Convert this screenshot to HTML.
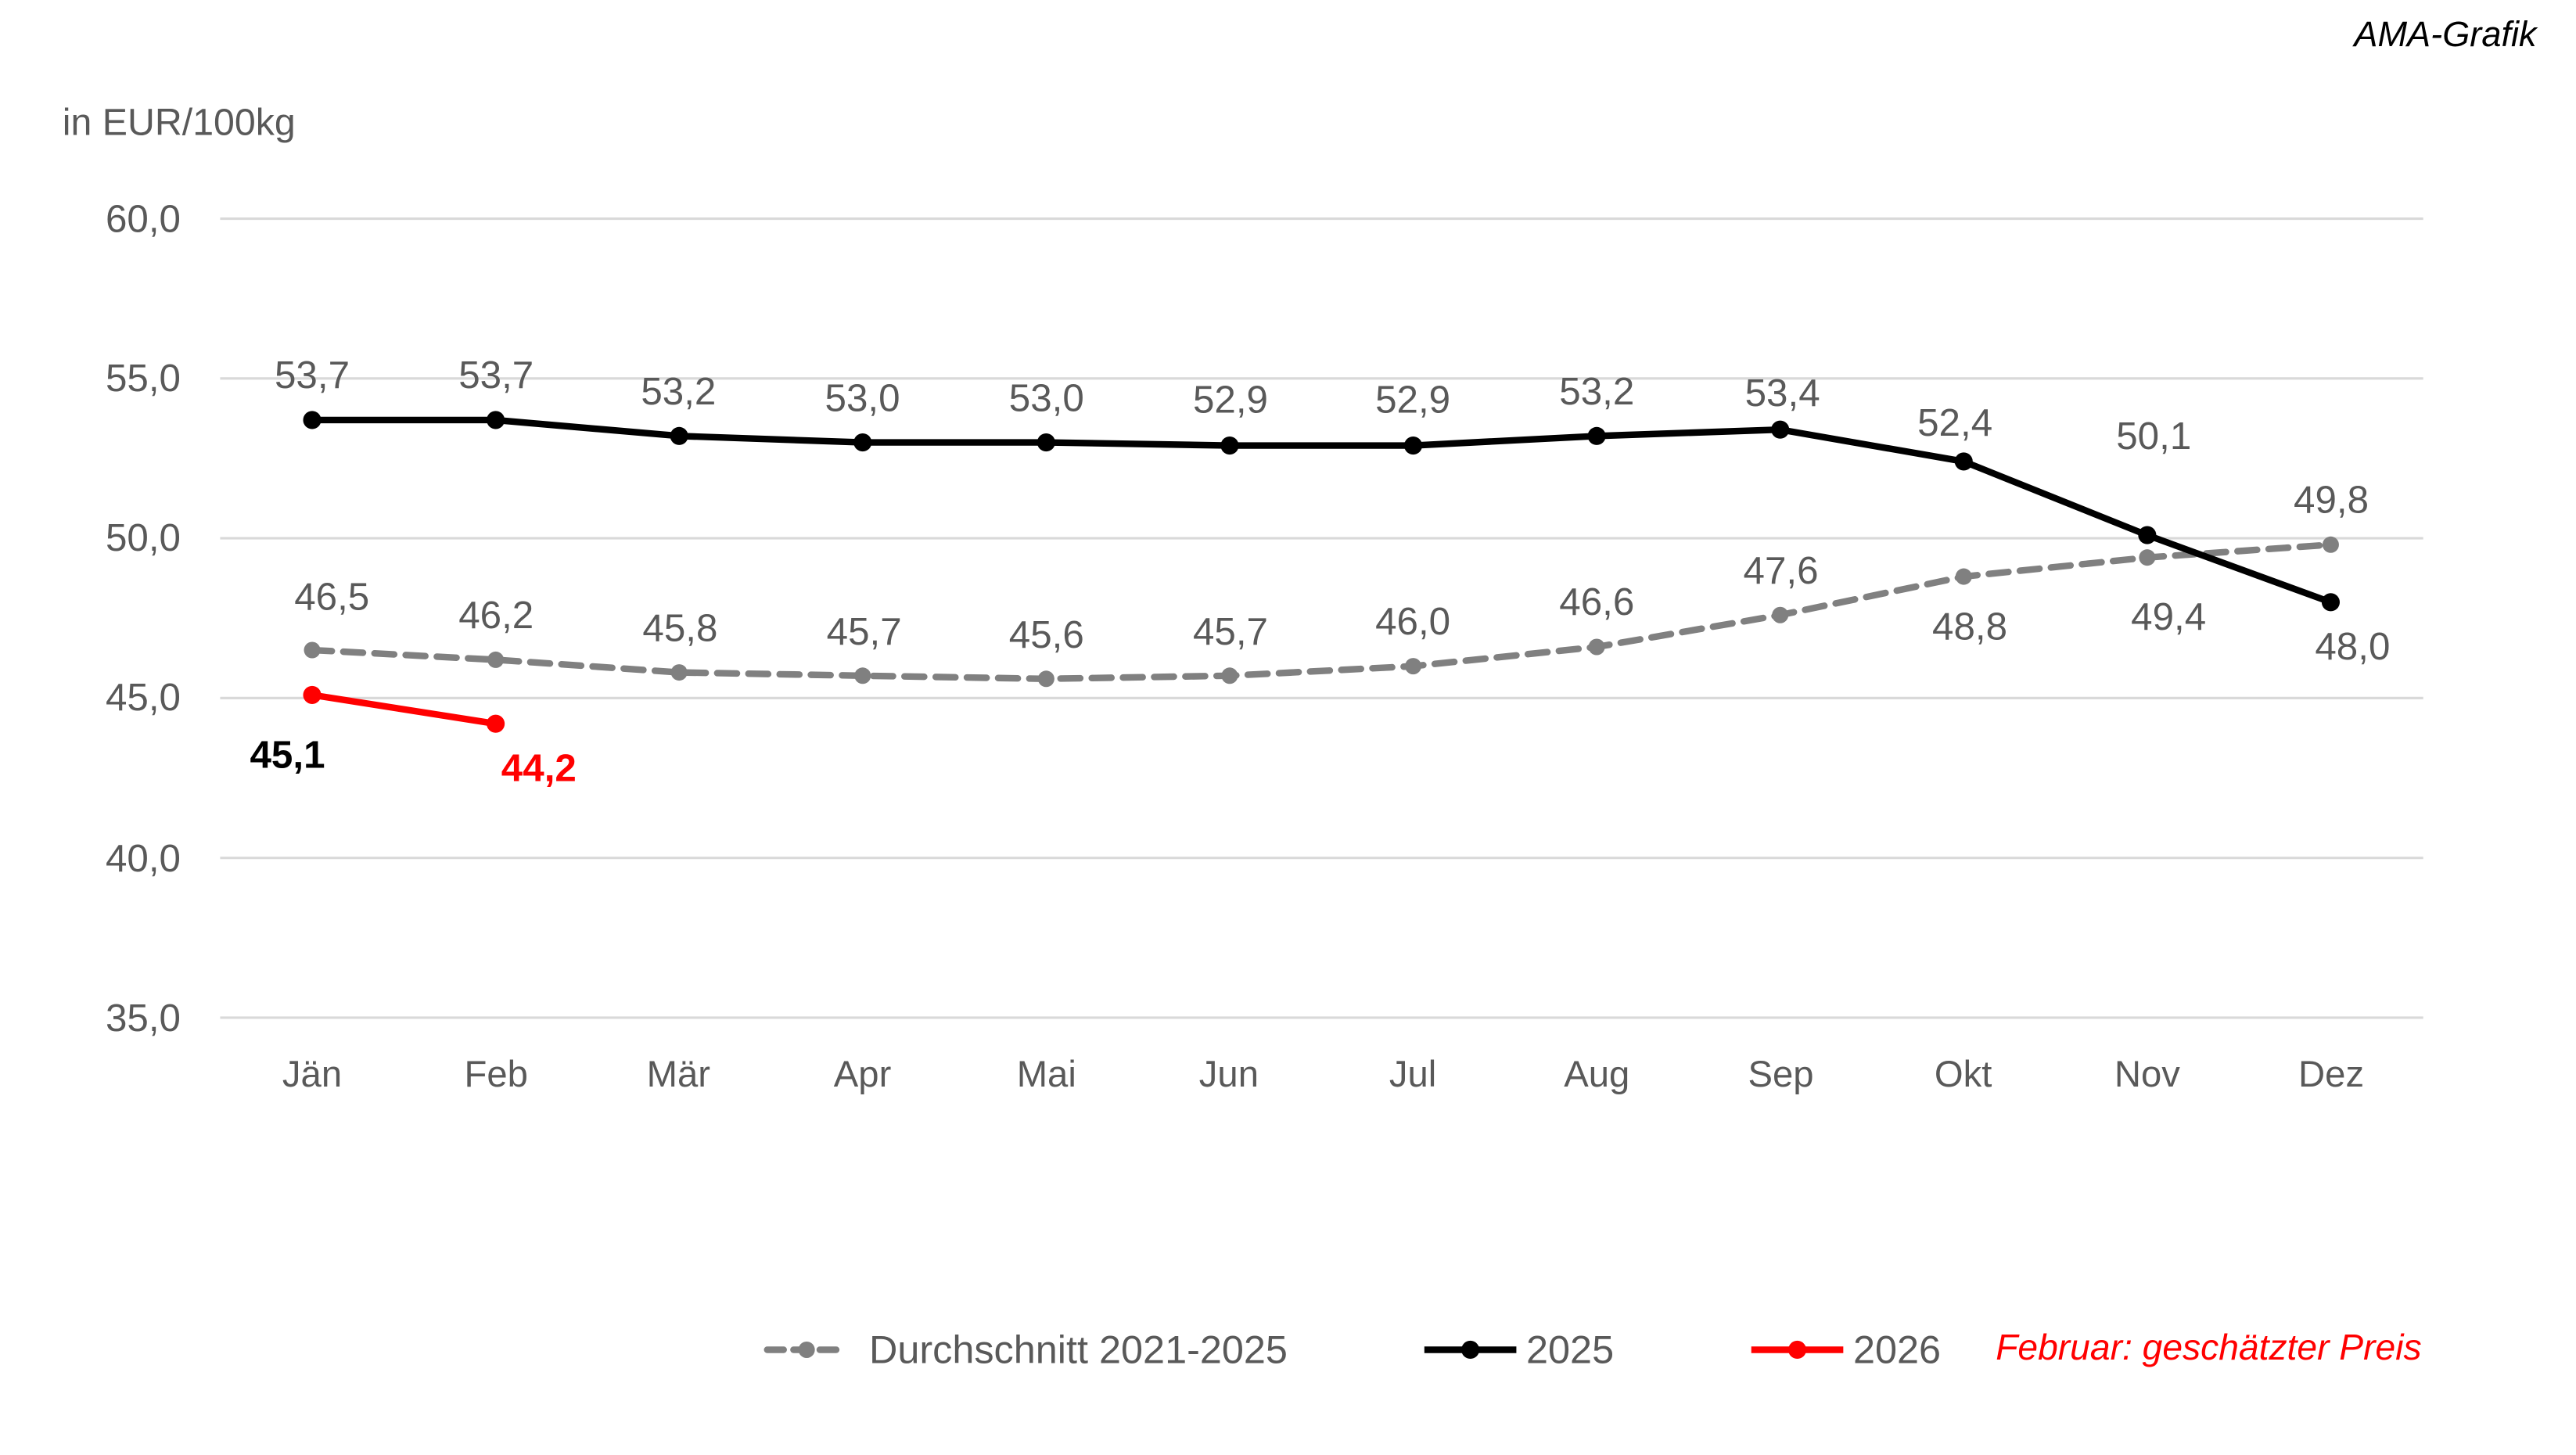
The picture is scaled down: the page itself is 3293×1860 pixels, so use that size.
<!DOCTYPE html>
<html><head><meta charset="utf-8"><style>
html,body{margin:0;padding:0;background:#fff;}
svg{display:block;}
text{font-family:"Liberation Sans",sans-serif;}
</style></head><body>
<svg width="3293" height="1860" viewBox="0 0 1568 885" preserveAspectRatio="none" xmlns="http://www.w3.org/2000/svg">
<rect width="1568" height="885" fill="#fff"/>
<text x="1544" y="28" font-size="21.5" font-style="italic" text-anchor="end" fill="#000">AMA-Grafik</text>
<text x="38" y="82" font-size="23" fill="#595959">in EUR/100kg</text>
<g stroke="#d9d9d9" stroke-width="1.5">
<line x1="134" x2="1475" y1="133" y2="133"/><line x1="134" x2="1475" y1="230.2" y2="230.2"/>
<line x1="134" x2="1475" y1="327.4" y2="327.4"/><line x1="134" x2="1475" y1="424.6" y2="424.6"/>
<line x1="134" x2="1475" y1="521.8" y2="521.8"/><line x1="134" x2="1475" y1="619" y2="619"/>
</g>
<g font-size="23.5" fill="#595959" text-anchor="end">
<text x="110" y="141">60,0</text><text x="110" y="238">55,0</text><text x="110" y="335">50,0</text>
<text x="110" y="432">45,0</text><text x="110" y="530">40,0</text><text x="110" y="627">35,0</text>
</g>
<g font-size="22.5" fill="#595959" text-anchor="middle">
<text x="190" y="661">Jän</text><text x="302" y="661">Feb</text><text x="413" y="661">Mär</text>
<text x="525" y="661">Apr</text><text x="637" y="661">Mai</text><text x="748" y="661">Jun</text>
<text x="860" y="661">Jul</text><text x="972" y="661">Aug</text><text x="1084" y="661">Sep</text>
<text x="1195" y="661">Okt</text><text x="1307" y="661">Nov</text><text x="1419" y="661">Dez</text>
</g>
<polyline fill="none" stroke="#808080" stroke-width="4" stroke-dasharray="12,7" stroke-linecap="round" points="190,395.4 301.7,401.3 413.4,409 525.1,411 636.8,412.9 748.5,411 860.2,405.2 971.9,393.5 1083.6,374.1 1195.3,350.7 1307,339.1 1418.7,331.3"/>
<g fill="#808080">
<circle cx="190" cy="395.4" r="5"/><circle cx="301.7" cy="401.3" r="5"/><circle cx="413.4" cy="409" r="5"/><circle cx="525.1" cy="411" r="5"/><circle cx="636.8" cy="412.9" r="5"/><circle cx="748.5" cy="411" r="5"/><circle cx="860.2" cy="405.2" r="5"/><circle cx="971.9" cy="393.5" r="5"/><circle cx="1083.6" cy="374.1" r="5"/><circle cx="1195.3" cy="350.7" r="5"/><circle cx="1307" cy="339.1" r="5"/><circle cx="1418.7" cy="331.3" r="5"/>
</g>
<polyline fill="none" stroke="#000" stroke-width="4" stroke-linejoin="round" points="190,255.5 301.7,255.5 413.4,265.2 525.1,269.1 636.8,269.1 748.5,271 860.2,271 971.9,265.2 1083.6,261.3 1195.3,280.7 1307,325.5 1418.7,366.3"/>
<g fill="#000">
<circle cx="190" cy="255.5" r="5.5"/><circle cx="301.7" cy="255.5" r="5.5"/><circle cx="413.4" cy="265.2" r="5.5"/><circle cx="525.1" cy="269.1" r="5.5"/><circle cx="636.8" cy="269.1" r="5.5"/><circle cx="748.5" cy="271" r="5.5"/><circle cx="860.2" cy="271" r="5.5"/><circle cx="971.9" cy="265.2" r="5.5"/><circle cx="1083.6" cy="261.3" r="5.5"/><circle cx="1195.3" cy="280.7" r="5.5"/><circle cx="1307" cy="325.5" r="5.5"/><circle cx="1418.7" cy="366.3" r="5.5"/>
</g>
<polyline fill="none" stroke="#ff0000" stroke-width="4" points="190,422.7 301.7,440.2"/>
<circle cx="190" cy="422.7" r="5.5" fill="#ff0000"/><circle cx="301.7" cy="440.2" r="5.5" fill="#ff0000"/>
<g font-size="23.5" fill="#595959" text-anchor="middle">
<text x="190" y="236">53,7</text><text x="302" y="236">53,7</text><text x="413" y="246">53,2</text>
<text x="525" y="250">53,0</text><text x="637" y="250">53,0</text><text x="749" y="251">52,9</text>
<text x="860" y="251">52,9</text><text x="972" y="246">53,2</text><text x="1085" y="247">53,4</text>
<text x="1190" y="265">52,4</text><text x="1311" y="273">50,1</text><text x="1432" y="401">48,0</text>
<text x="202" y="371">46,5</text><text x="302" y="382">46,2</text><text x="414" y="390">45,8</text>
<text x="526" y="392">45,7</text><text x="637" y="394">45,6</text><text x="749" y="392">45,7</text>
<text x="860" y="386">46,0</text><text x="972" y="374">46,6</text><text x="1084" y="355">47,6</text>
<text x="1199" y="389">48,8</text><text x="1320" y="383">49,4</text><text x="1419" y="312">49,8</text>
</g>
<text x="175" y="467" font-size="23.5" font-weight="bold" fill="#000" text-anchor="middle">45,1</text>
<text x="328" y="475" font-size="23.5" font-weight="bold" fill="#ff0000" text-anchor="middle">44,2</text>
<line x1="467" x2="515" y1="821" y2="821" stroke="#808080" stroke-width="4" stroke-dasharray="10,6" stroke-linecap="round"/>
<circle cx="491" cy="821" r="5" fill="#808080"/>
<text x="529" y="829" font-size="24" fill="#595959">Durchschnitt 2021-2025</text>
<line x1="867" x2="923" y1="821" y2="821" stroke="#000" stroke-width="4"/>
<circle cx="895" cy="821" r="5.5" fill="#000"/>
<text x="929" y="829" font-size="24" fill="#595959">2025</text>
<line x1="1066" x2="1122" y1="821" y2="821" stroke="#ff0000" stroke-width="4"/>
<circle cx="1094" cy="821" r="5.5" fill="#ff0000"/>
<text x="1128" y="829" font-size="24" fill="#595959">2026</text>
<text x="1474" y="827" font-size="22" font-style="italic" fill="#ff0000" text-anchor="end">Februar: geschätzter Preis</text>
</svg>
</body></html>
